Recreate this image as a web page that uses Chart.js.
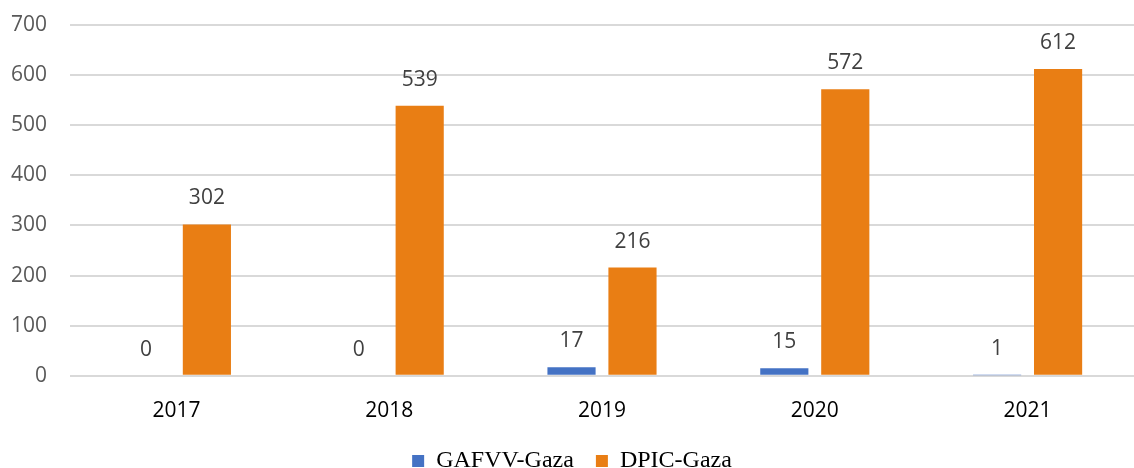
<!DOCTYPE html>
<html>
<head>
<meta charset="utf-8">
<script src="https://cdn.jsdelivr.net/npm/chart.js@4/dist/chart.umd.min.js"></script>
<style>
  body { margin: 0; background: #fff; }
  #wrap { width: 1134px; height: 468px; }
</style>
</head>
<body>
<div id="wrap"><canvas id="myChart"></canvas></div>
<script>
var years = ["2017", "2018", "2019", "2020", "2021"];
var gafvv = [0, 0, 17, 15, 1];
var dpic = [302, 539, 216, 572, 612];
var yTicks = [0, 100, 200, 300, 400, 500, 600, 700];

// labels over each bar
var valueLabels = {
    id: 'valueLabels',
    afterDatasetsDraw: function(chart) {
        var ctx = chart.ctx;
        ctx.save();
        ctx.font = '21px "Open Sans"';
        ctx.fillStyle = '#404040';
        ctx.textAlign = 'center';
        ctx.textBaseline = 'middle';
        chart.data.datasets.forEach(function(ds, i) {
            var meta = chart.getDatasetMeta(i);
            meta.data.forEach(function(bar, j) {
                ctx.fillText(ds.data[j], bar.x, bar.y - 26);
            });
        });
        ctx.restore();
    }
};

var ctx = document.getElementById("myChart");
var myChart = new Chart(ctx, {
    type: 'bar',
    data: {
        labels: years,
        datasets: [
            {
                label: "GAFVV-Gaza",
                data: gafvv,
                backgroundColor: "#4472C4",
                categoryPercentage: 0.573,
                barPercentage: 0.79
            },
            {
                label: "DPIC-Gaza",
                data: dpic,
                backgroundColor: "#E97E14",
                categoryPercentage: 0.573,
                barPercentage: 0.79
            }
        ]
    },
    options: {
        responsive: true,
        maintainAspectRatio: false,
        animation: false,
        layout: { padding: { top: 25, left: 10, right: 0, bottom: -15 } },
        plugins: {
            legend: {
                position: 'bottom',
                labels: {
                    boxWidth: 12,
                    boxHeight: 12,
                    padding: 22,
                    color: '#000',
                    font: { family: '"Liberation Serif"', size: 24 }
                }
            },
            tooltip: { enabled: false }
        },
        scales: {
            x: {
                grid: { display: false },
                border: { display: false },
                afterFit: function(axis) { axis.height -= 12; },
                ticks: {
                    color: '#000',
                    padding: 15,
                    font: { family: '"Open Sans"', size: 21 }
                }
            },
            y: {
                min: 0,
                max: 700,
                afterBuildTicks: function(axis) {
                    axis.ticks = yTicks.map(function(v) { return { value: v }; });
                },
                afterFit: function(axis) {
                    axis.width = 60;
                    axis.paddingTop = 0;
                    axis.paddingBottom = 0;
                },
                grid: { color: '#d9d9d9', lineWidth: 2, drawTicks: false },
                border: { display: false },
                ticks: {
                    color: '#595959',
                    padding: 23,
                    font: { family: '"Open Sans"', size: 21 }
                }
            }
        }
    },
    plugins: [valueLabels]
});
</script>
</body>
</html>
